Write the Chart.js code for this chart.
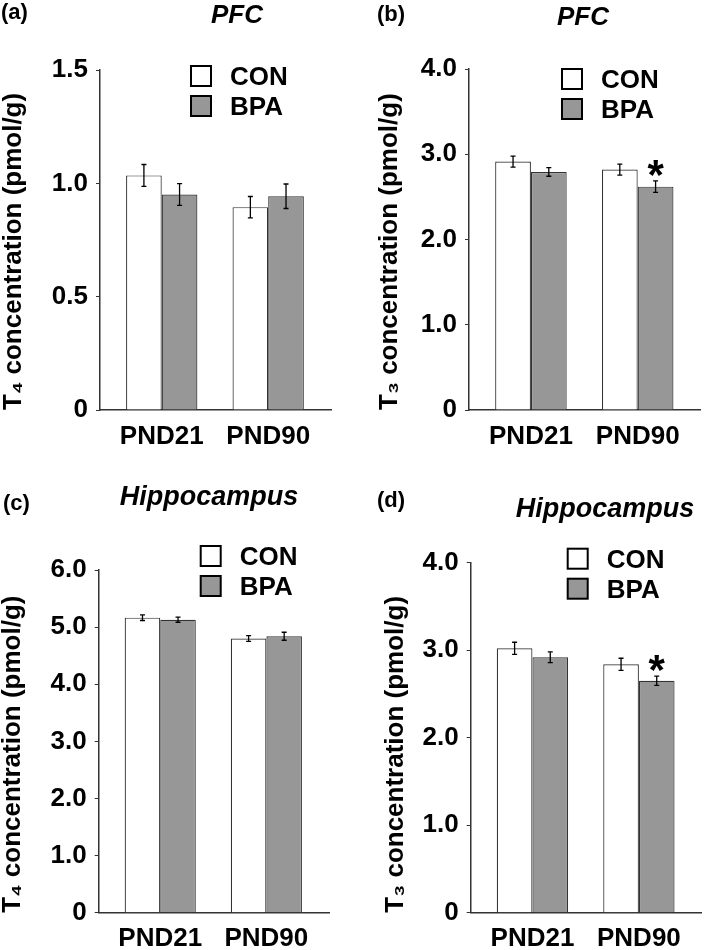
<!DOCTYPE html>
<html>
<head>
<meta charset="utf-8">
<script src="https://cdn.jsdelivr.net/npm/chart.js@4/dist/chart.umd.min.js"></script>
<style>
  html, body { margin: 0; padding: 0; background: #fff; }
  #wrap { position: relative; width: 709px; height: 950px; overflow: hidden; background: #fff; }
  .cv { position: absolute; }
  .lab { position: absolute; font-family: "Liberation Sans", Arial, sans-serif; font-weight: bold; color: #000; white-space: nowrap; line-height: 1; }
  .ttl { position: absolute; font-family: "Liberation Sans", Arial, sans-serif; font-weight: bold; font-style: italic; color: #000; white-space: nowrap; line-height: 1; text-align: center; width: 300px; }
</style>
</head>
<body>
<div id="wrap">
  <canvas id="ca" class="cv" style="left:0;top:0"></canvas>
  <canvas id="cb" class="cv" style="left:354px;top:0"></canvas>
  <canvas id="cc" class="cv" style="left:0;top:470px"></canvas>
  <canvas id="cd" class="cv" style="left:354px;top:470px"></canvas>
  <div class="lab" style="left:1px;top:1px;font-size:22px">(a)</div>
  <div class="ttl" style="left:87px;top:1px;font-size:26px">PFC</div>
  <div class="lab" style="left:377px;top:3px;font-size:22px">(b)</div>
  <div class="ttl" style="left:433px;top:3px;font-size:26px">PFC</div>
  <div class="lab" style="left:3px;top:492px;font-size:22px">(c)</div>
  <div class="ttl" style="left:59px;top:483px;font-size:27px">Hippocampus</div>
  <div class="lab" style="left:377px;top:489px;font-size:22px">(d)</div>
  <div class="ttl" style="left:455px;top:495px;font-size:27px">Hippocampus</div>
</div>
<script>
// ---------- data ----------
const categories = ['PND21', 'PND90'];
const seriesNames = ['CON', 'BPA'];

// (a) PFC T4
const aCon = [1.035, 0.895];
const aConErr = [0.048, 0.047];
const aBpa = [0.951, 0.943];
const aBpaErr = [0.048, 0.054];
const aSig = [false, false];
const aTicks = [0, 0.5, 1.0, 1.5];
const aTickLabels = ['0', '0.5', '1.0', '1.5'];

// (b) PFC T3
const bCon = [2.914, 2.82];
const bConErr = [0.065, 0.065];
const bBpa = [2.792, 2.62];
const bBpaErr = [0.05, 0.067];
const bSig = [false, true];
const bTicks = [0, 1, 2, 3, 4];
const bTickLabels = ['0', '1.0', '2.0', '3.0', '4.0'];

// (c) Hippocampus T4
const cCon = [5.166, 4.80];
const cConErr = [0.05, 0.05];
const cBpa = [5.13, 4.84];
const cBpaErr = [0.045, 0.07];
const cSig = [false, false];
const cTicks = [0, 1, 2, 3, 4, 5, 6];
const cTickLabels = ['0', '1.0', '2.0', '3.0', '4.0', '5.0', '6.0'];

// (d) Hippocampus T3
const dCon = [3.022, 2.839];
const dConErr = [0.069, 0.069];
const dBpa = [2.919, 2.651];
const dBpaErr = [0.061, 0.053];
const dSig = [false, true];
const dTicks = [0, 1, 2, 3, 4];
const dTickLabels = ['0', '1.0', '2.0', '3.0', '4.0'];

// ---------- styling ----------
const FONT = '"Liberation Sans", Arial, sans-serif';
const INK = '#000000';
const AXIS = '#333333';
const CON_FILL = '#ffffff';
const BPA_FILL = '#979797';

const errorBarPlugin = {
  id: 'errorBars',
  afterDatasetsDraw(chart) {
    const ctx = chart.ctx;
    const ys = chart.scales.y;
    chart.data.datasets.forEach((ds, i) => {
      const meta = chart.getDatasetMeta(i);
      meta.data.forEach((el, j) => {
        const v = ds.data[j].y;
        const e = ds.errors[j];
        const yTop = ys.getPixelForValue(v + e);
        const yBot = ys.getPixelForValue(v - e);
        const x = el.x;
        ctx.save();
        ctx.strokeStyle = INK;
        ctx.lineWidth = 1.3;
        ctx.beginPath();
        ctx.moveTo(x, yTop); ctx.lineTo(x, yBot);
        ctx.moveTo(x - 2.5, yTop); ctx.lineTo(x + 2.5, yTop);
        ctx.moveTo(x - 2.5, yBot); ctx.lineTo(x + 2.5, yBot);
        ctx.stroke();
        if (ds.sig && ds.sig[j]) {
          ctx.fillStyle = INK;
          ctx.font = 'bold 42px ' + FONT;
          ctx.textAlign = 'center';
          ctx.textBaseline = 'alphabetic';
          ctx.fillText('*', x, yTop - 15 + 23);
        }
        ctx.restore();
      });
    });
  }
};

const boxLegendPlugin = {
  id: 'boxLegend',
  afterDraw(chart, args, opts) {
    const ctx = chart.ctx;
    const ca = chart.chartArea;
    const x0 = ca.left + opts.dx;
    let y0 = ca.top + opts.dy;
    chart.data.datasets.forEach((ds) => {
      ctx.save();
      ctx.fillStyle = ds.backgroundColor;
      ctx.strokeStyle = INK;
      ctx.lineWidth = 2;
      ctx.fillRect(x0, y0, 20, 20);
      ctx.strokeRect(x0, y0, 20, 20);
      ctx.fillStyle = INK;
      ctx.font = 'bold 26px ' + FONT;
      ctx.textAlign = 'left';
      ctx.textBaseline = 'middle';
      ctx.fillText(ds.label, x0 + 39, y0 + 12);
      ctx.restore();
      y0 += 30;
    });
  }
};

function makePanel(id, w, h, area, con, conErr, bpa, bpaErr, sig, yMax, ticks, tickLabels, titleText, titlePad, legendPos) {
  const canvas = document.getElementById(id);
  canvas.width = w; canvas.height = h;
  canvas.style.width = w + 'px'; canvas.style.height = h + 'px';
  const toPts = (arr) => arr.map((v, i) => ({ x: i, y: v }));
  return new Chart(canvas, {
    type: 'bar',
    data: {
      datasets: [
        { label: seriesNames[0], data: toPts(con), errors: conErr, sig: [false, false],
          backgroundColor: CON_FILL, borderColor: AXIS, borderWidth: 1.2 },
        { label: seriesNames[1], data: toPts(bpa), errors: bpaErr, sig: sig,
          backgroundColor: BPA_FILL, borderColor: AXIS, borderWidth: 1.2 }
      ]
    },
    options: {
      responsive: false,
      animation: false,
      devicePixelRatio: 1,
      categoryPercentage: 0.67,
      barPercentage: 1.0,
      layout: { padding: { left: 0, top: area.top, right: w - area.right, bottom: 0 } },
      plugins: {
        legend: { display: false },
        tooltip: { enabled: false },
        boxLegend: legendPos
      },
      scales: {
        x: {
          type: 'linear',
          offset: false,
          min: -0.58, max: 1.59,
          afterFit(scale) { scale.height = h - area.bottom; },
          afterBuildTicks(scale) { scale.ticks = categories.map((c, i) => ({ value: i })); },
          ticks: {
            callback: (v) => categories[v],
            color: INK,
            font: { family: FONT, size: 26, weight: 'bold' },
            padding: 11,
            maxRotation: 0, autoSkip: false
          },
          grid: { display: false, drawTicks: false },
          border: { display: true, color: AXIS, width: 1.5 }
        },
        y: {
          min: 0, max: yMax,
          afterFit(scale) { scale.width = area.left; },
          afterBuildTicks(scale) { scale.ticks = ticks.map(v => ({ value: v })); },
          ticks: {
            callback: (v) => tickLabels[ticks.indexOf(v)],
            color: INK,
            font: { family: FONT, size: 26, weight: 'bold' },
            padding: 8,
            autoSkip: false
          },
          grid: { display: true, drawOnChartArea: false, drawTicks: true, tickLength: 4, color: AXIS, lineWidth: 1 },
          border: { display: true, color: AXIS, width: 1.5 },
          title: {
            display: true,
            text: titleText,
            align: 'start',
            color: INK,
            font: { family: FONT, size: 26, weight: 'bold', lineHeight: 1 },
            padding: { top: titlePad, bottom: 0 }
          }
        }
      }
    },
    plugins: [errorBarPlugin, boxLegendPlugin]
  });
}

makePanel('ca', 354, 470, { left: 100, right: 331, top: 70, bottom: 410 },
  aCon, aConErr, aBpa, aBpaErr, aSig, 1.5, aTicks, aTickLabels,
  'T\u2084 concentration (pmol/g)', 1, { dx: 91, dy: -4 });
makePanel('cb', 355, 470, { left: 115, right: 346.7, top: 69, bottom: 410 },
  bCon, bConErr, bBpa, bBpaErr, bSig, 4, bTicks, bTickLabels,
  'T\u2083 concentration (pmol/g)', 23, { dx: 93, dy: 0 });
makePanel('cc', 354, 480, { left: 98.7, right: 329, top: 100, bottom: 442.7 },
  cCon, cConErr, cBpa, cBpaErr, cSig, 6, cTicks, cTickLabels,
  'T\u2084 concentration (pmol/g)', 0, { dx: 102, dy: -24 });
makePanel('cd', 355, 480, { left: 116.7, right: 347.7, top: 92.7, bottom: 442.7 },
  dCon, dConErr, dBpa, dBpaErr, dSig, 4, dTicks, dTickLabels,
  'T\u2083 concentration (pmol/g)', 29, { dx: 97, dy: -14 });
</script>
</body>
</html>
